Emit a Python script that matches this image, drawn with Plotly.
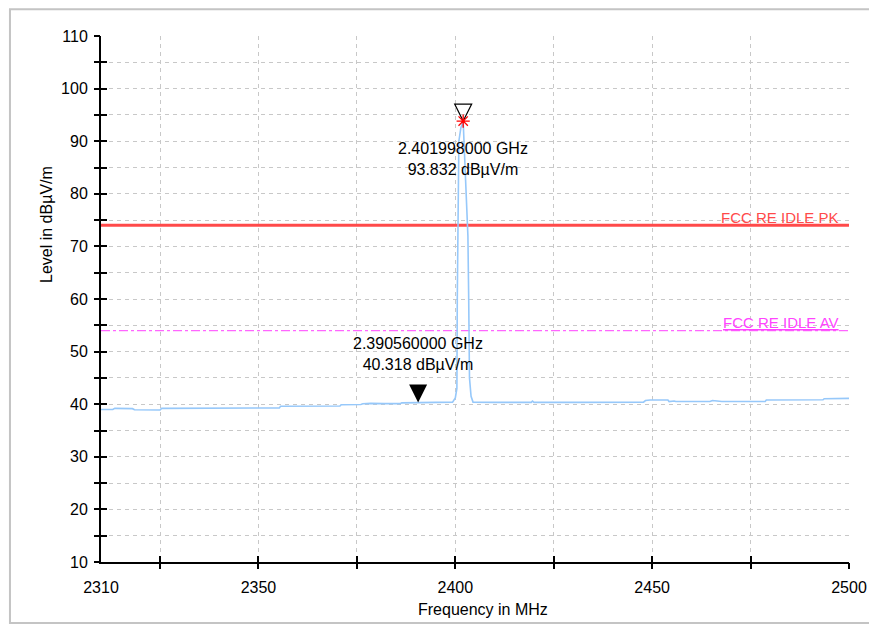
import plotly.graph_objects as go

# ---- data ----
freq_mhz = [2310, 2313, 2313.5, 2316, 2318, 2318.5, 2325, 2325.4, 2340, 2355.3, 2355.6, 2365,
            2370.7, 2371.0, 2376, 2376.5, 2378, 2378.5, 2382, 2386.0, 2386.4, 2390.56, 2394,
            2397.0, 2399.3, 2400.0, 2400.4, 2400.5, 2400.7, 2400.9, 2401.4, 2401.998, 2402.2,
            2402.5, 2402.8, 2403.2, 2403.4, 2403.6, 2404.0, 2404.5, 2410, 2419.3, 2419.6,
            2420.0, 2430, 2447.8, 2448.3, 2449.5, 2454.0, 2454.3, 2455.6, 2456.0, 2464.7,
            2465.3, 2466.5, 2467.7, 2478.7, 2479.0, 2493.4, 2493.7, 2500]
level_dbuv = [39.0, 39.0, 39.2, 39.2, 39.15, 38.95, 38.9, 39.2, 39.25, 39.3, 39.6, 39.6,
              39.65, 39.9, 39.95, 40.1, 40.05, 40.15, 40.1, 40.1, 40.25, 40.318, 40.35,
              40.5, 40.4, 41.2, 43.0, 60.0, 80.0, 90.0, 92.5, 93.832, 90.0,
              85.0, 79.0, 72.0, 60.0, 45.0, 41.5, 40.4, 40.35, 40.35, 40.6,
              40.35, 40.35, 40.4, 40.7, 40.8, 40.8, 40.5, 40.6, 40.5, 40.5,
              40.7, 40.6, 40.5, 40.5, 40.8, 40.85, 41.05, 41.1]

limit_pk_name = "FCC RE IDLE PK"
limit_pk_level = 74
limit_av_name = "FCC RE IDLE AV"
limit_av_level = 54

peak_marker = {"freq": 2401.998, "level": 93.832}
edge_marker = {"freq": 2390.56, "level": 40.318}

x_range = [2310, 2500]
y_range = [10, 110]
x_label_ticks = [2310, 2350, 2400, 2450, 2500]
x_minor_ticks = [2325, 2350, 2375, 2400, 2425, 2450, 2475, 2500]
y_label_ticks = [10, 20, 30, 40, 50, 60, 70, 80, 90, 100, 110]
y_minor_ticks = [10, 15, 20, 25, 30, 35, 40, 45, 50, 55, 60, 65, 70, 75, 80, 85, 90, 95, 100, 105, 110]

FONT = "Liberation Sans, Arial, sans-serif"
NARROW = "Liberation Sans Narrow, Arial Narrow, Liberation Sans, Arial, sans-serif"
GRID = "#c8c8c8"

fig = go.Figure()

# limit lines
fig.add_trace(go.Scatter(x=x_range, y=[limit_av_level] * 2, mode="lines",
                         line=dict(color="#ff66ff", width=1.3, dash="dashdot"),
                         hoverinfo="skip", showlegend=False))
fig.add_trace(go.Scatter(x=x_range, y=[limit_pk_level] * 2, mode="lines",
                         line=dict(color="#ff4a4a", width=3),
                         hoverinfo="skip", showlegend=False))

# spectrum trace
fig.add_trace(go.Scatter(x=freq_mhz, y=level_dbuv, mode="lines",
                         line=dict(color="rgb(150,200,250)", width=1.6),
                         showlegend=False))

# markers
fig.add_trace(go.Scatter(x=[peak_marker["freq"]], y=[peak_marker["level"]], mode="markers",
                         marker=dict(symbol="arrow-down-open", size=17, color="black",
                                     line=dict(color="black", width=1.2)),
                         showlegend=False))
fig.add_trace(go.Scatter(x=[peak_marker["freq"]], y=[peak_marker["level"]], mode="markers",
                         marker=dict(symbol="asterisk-open", size=11, color="red",
                                     line=dict(color="red", width=1.3)),
                         showlegend=False))
fig.add_trace(go.Scatter(x=[edge_marker["freq"]], y=[edge_marker["level"]], mode="markers",
                         marker=dict(symbol="arrow-down", size=18, color="black",
                                     line=dict(width=0)),
                         showlegend=False))

# helper empty traces for the tick/grid overlay axes
fig.add_trace(go.Scatter(x=[None], y=[None], xaxis="x2", yaxis="y2", showlegend=False, hoverinfo="skip"))
fig.add_trace(go.Scatter(x=[None], y=[None], xaxis="x3", yaxis="y3", showlegend=False, hoverinfo="skip"))

for m, shift, anchor in [(peak_marker, -17, "top"), (edge_marker, 28, "bottom")]:
    fig.add_annotation(x=m["freq"], y=m["level"], xref="x", yref="y",
                       text=f"{m['freq'] / 1000:.9f} GHz<br>{m['level']:.3f} dBµV/m",
                       showarrow=False, yanchor=anchor, yshift=shift, xanchor="center",
                       font=dict(family=FONT, size=16, color="black"))

fig.add_annotation(x=x_range[1], y=limit_pk_level, xref="x", yref="y", text=limit_pk_name,
                   showarrow=False, xanchor="right", yanchor="bottom", xshift=-8, yshift=-3,
                   font=dict(family=NARROW, size=15, color="#ff4a4a"))
fig.add_annotation(x=x_range[1], y=limit_av_level, xref="x", yref="y", text=f"<u>{limit_av_name}</u>",
                   showarrow=False, xanchor="right", yanchor="bottom", xshift=-8, yshift=-2,
                   font=dict(family=NARROW, size=15, color="#ff44ff"))

# axis titles
fig.add_annotation(x=-0.0722, y=0.6426, xref="paper", yref="paper", text="Level in dBµV/m",
                   textangle=-90, showarrow=False, xanchor="center", yanchor="middle",
                   font=dict(family=FONT, size=16, color="black"))
fig.add_annotation(x=0.5107, y=-0.091, xref="paper", yref="paper", text="Frequency in MHz",
                   showarrow=False, xanchor="center", yanchor="middle",
                   font=dict(family=FONT, size=16, color="black"))

# outer frame
fig.add_shape(type="rect", xref="paper", yref="paper", x0=-0.1217, x1=1.06, y0=-0.116, y1=1.0508,
              line=dict(color="#c4c4c4", width=2), layer="below")

common_x = dict(range=x_range, zeroline=False, fixedrange=True)
common_y = dict(range=y_range, zeroline=False, fixedrange=True)

fig.update_layout(
    width=877, height=624,
    margin=dict(l=93, r=36, t=28, b=70),
    paper_bgcolor="white", plot_bgcolor="white",
    font=dict(family=FONT, size=16, color="black"),
    xaxis=dict(**common_x, tickmode="array", tickvals=x_label_ticks, ticks="",
               showgrid=False, showline=True, linecolor="black", linewidth=2,
               tickfont=dict(family=FONT, size=16, color="black"), ticklabelstandoff=10),
    xaxis2=dict(**common_x, overlaying="x", anchor="y", side="bottom", tickmode="array",
                tickvals=x_minor_ticks, ticks="outside", ticklen=6, tickwidth=1.5, tickcolor="black",
                showticklabels=False, showgrid=True, gridcolor=GRID, griddash="4px,4px", gridwidth=1,
                showline=False),
    xaxis3=dict(**common_x, overlaying="x", anchor="y", side="bottom", tickmode="array",
                tickvals=x_minor_ticks, ticks="inside", ticklen=6, tickwidth=1.5, tickcolor="black",
                showticklabels=False, showgrid=False, showline=False),
    yaxis=dict(**common_y, tickmode="array", tickvals=y_label_ticks, ticks="",
               showgrid=False, showline=True, linecolor="black", linewidth=2,
               tickfont=dict(family=FONT, size=16, color="black"), ticklabelstandoff=8),
    yaxis2=dict(**common_y, overlaying="y", anchor="x", side="left", tickmode="array",
                tickvals=y_minor_ticks, ticks="outside", ticklen=6, tickwidth=1.5, tickcolor="black",
                showticklabels=False, showgrid=True, gridcolor=GRID, griddash="4px,4px", gridwidth=1,
                showline=False),
    yaxis3=dict(**common_y, overlaying="y", anchor="x", side="left", tickmode="array",
                tickvals=y_minor_ticks, ticks="inside", ticklen=6, tickwidth=1.5, tickcolor="black",
                showticklabels=False, showgrid=False, showline=False),
)

fig.write_html("out.html")
